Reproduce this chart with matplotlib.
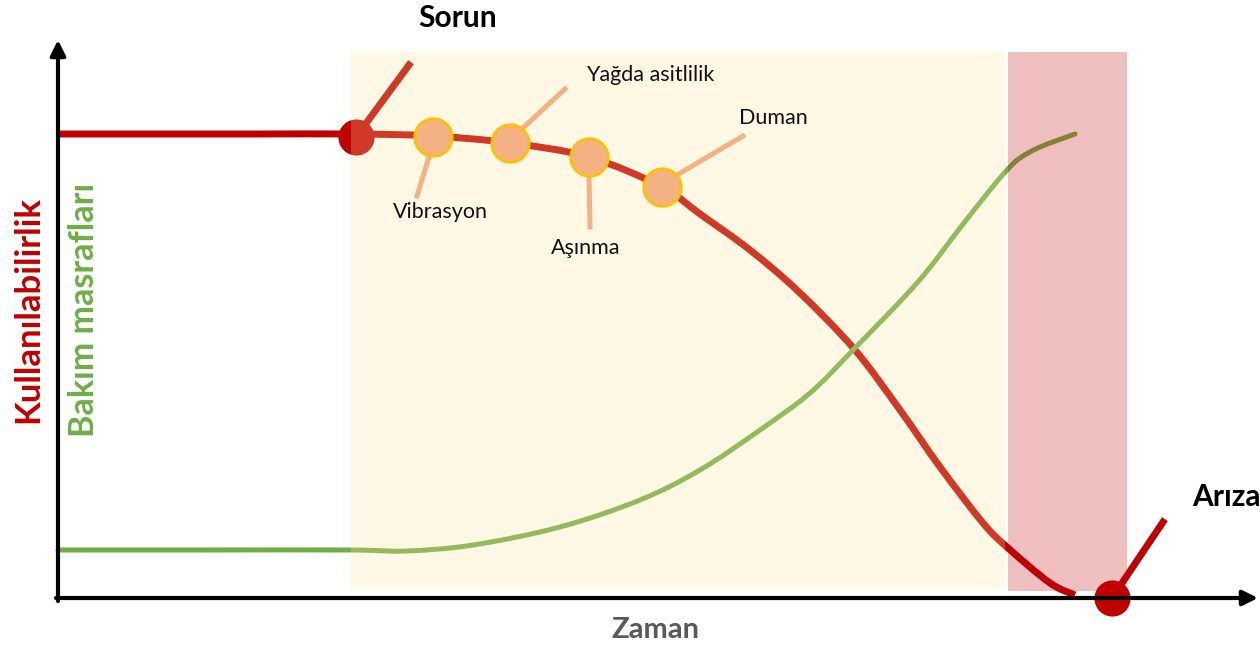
import matplotlib
matplotlib.use("Agg")
import matplotlib.pyplot as plt
from matplotlib.patches import Rectangle, PathPatch
from matplotlib.path import Path

plt.rcParams["font.family"] = ["Lato", "DejaVu Sans"]

# ── Daten (Zeit t, Wert v) ──────────────────────────────────────
red_t = [0.0, 10.0, 20.0, 29.8, 37.5, 45.2, 53.1, 60.4, 64.2, 69.2, 74.2,
         79.7, 84.2, 88.2, 92.5, 95.0, 99.2, 101.7]
red_v = [92.8, 92.8, 92.8, 92.8, 92.4, 91.0, 88.2, 82.2, 76.8, 69.6, 61.0,
         49.6, 37.6, 26.2, 15.0, 10.0, 3.0, 0.6]

green_t = [0.0, 14.2, 29.3, 34.9, 41.5, 50.2, 58.2, 64.2, 70.2, 75.2, 79.5,
           85.9, 90.2, 93.2, 94.9, 96.2, 98.2, 101.7]
green_v = [9.6, 9.6, 9.6, 9.4, 10.6, 14.2, 19.6, 25.6, 33.6, 41.0, 49.6,
           63.0, 74.0, 81.6, 85.6, 88.0, 90.2, 92.8]

symptom_names = ["Vibrasyon", "Yağda asitlilik", "Aşınma", "Duman"]
symptom_t = [37.5, 45.2, 53.1, 60.4]
symptom_v = [92.2, 91.0, 88.2, 82.2]

problem_t, problem_v = 29.8, 92.2
failure_t, failure_v = 105.4, 0.0

RED = "#C00000"
GREEN = "#70AD47"
SALMON = "#F4B183"
GOLD = "#FFC000"


def smooth_path(xs, ys):
    """Glatte Bezier-Kurve durch alle Punkte (Catmull-Rom -> CURVE4)."""
    pts = list(zip(xs, ys))
    verts = [pts[0]]
    codes = [Path.MOVETO]
    n = len(pts)
    for i in range(n - 1):
        p0 = pts[i - 1] if i > 0 else pts[i]
        p1, p2 = pts[i], pts[i + 1]
        p3 = pts[i + 2] if i + 2 < n else pts[i + 1]
        c1 = (p1[0] + (p2[0] - p0[0]) / 6, p1[1] + (p2[1] - p0[1]) / 6)
        c2 = (p2[0] - (p3[0] - p1[0]) / 6, p2[1] - (p3[1] - p1[1]) / 6)
        verts += [c1, c2, p2]
        codes += [Path.CURVE4] * 3
    return Path(verts, codes)


fig = plt.figure(figsize=(12.6, 6.46), dpi=100, facecolor="white")
ax = fig.add_axes([0, 0, 1, 1])
ax.set_xlim(-5.8, 120.2)
ax.set_ylim(-9.6, 119.6)
ax.axis("off")

# ── Kurven ─────────────────────────────────────────────────────
ax.add_patch(PathPatch(smooth_path(red_t, red_v), facecolor="none",
                       edgecolor=RED, lw=5, capstyle="butt", zorder=2))
ax.add_patch(PathPatch(smooth_path(green_t, green_v), facecolor="none",
                       edgecolor=GREEN, lw=3.6, capstyle="round", zorder=2))

# Sorun-Punkt und Ausfall-Punkt mit Stiel
ax.plot([problem_t, problem_t + 5.3], [problem_v, problem_v + 14.4],
        color=RED, lw=5, zorder=2)
ax.plot(problem_t, problem_v, "o", ms=26, color=RED, mec="none", zorder=2)
ax.plot([failure_t, failure_t + 5.1], [failure_v, failure_v + 15.2],
        color=RED, lw=5, zorder=2)
ax.plot(failure_t, failure_v, "o", ms=26, color=RED, mec="none", zorder=6)

# ── Phasen-Flächen ─────────────────────────────────────────────
ax.add_patch(Rectangle((29.3, 2.0), 65.4, 107.2, facecolor="#FFE699",
                       alpha=0.25, edgecolor="none", zorder=3))
ax.add_patch(Rectangle((95.0, 1.4), 11.9, 107.8, facecolor=RED,
                       alpha=0.25, edgecolor="none", zorder=3))

# ── Symptome ───────────────────────────────────────────────────
leader_from = [(37.1, 88.2), (46.5, 94.0), (53.1, 85.0), (61.9, 84.6)]
leader_to = [(35.9, 80.4), (50.7, 101.8), (53.2, 74.2), (68.5, 92.4)]
label_pos = [(38.2, 77.2), (59.2, 104.6), (52.8, 70.0), (71.5, 96.0)]
for name, a, b, p in zip(symptom_names, leader_from, leader_to, label_pos):
    ax.plot([a[0], b[0]], [a[1], b[1]], color=SALMON, lw=3.6, zorder=4)
    ax.text(p[0], p[1], name, ha="center", va="center", fontsize=15.5,
            color="#111111", zorder=7)
ax.plot(symptom_t, symptom_v, "o", ms=27, color=SALMON, mec=GOLD, mew=2,
        ls="none", zorder=5)

# ── Achsen mit Pfeilen ─────────────────────────────────────────
ax.annotate("", xy=(0, 111.6), xytext=(0, -0.6),
            arrowprops=dict(arrowstyle="-|>,head_length=0.9,head_width=0.45",
                            color="black", lw=3, shrinkA=0, shrinkB=0),
            zorder=8)
ax.annotate("", xy=(120.0, 0), xytext=(-0.2, 0),
            arrowprops=dict(arrowstyle="-|>,head_length=0.9,head_width=0.45",
                            color="black", lw=3, shrinkA=0, shrinkB=0),
            zorder=8)

# ── Beschriftungen ─────────────────────────────────────────────
ax.text(40.0, 116.0, "Sorun", ha="center", va="center", fontsize=21.5,
        fontweight="bold", color="black")
ax.text(113.4, 20.2, "Arıza", ha="left", va="center", fontsize=21.5,
        fontweight="bold", color="black")
ax.text(59.7, -6.4, "Zaman", ha="center", va="center", fontsize=21,
        fontweight="bold", color="#595959")
ax.text(-3.0, 57.6, "Kullanılabilirlik", ha="center", va="center",
        rotation=90, fontsize=25, fontweight="bold", color=RED)
ax.text(2.6, 57.6, "Bakım masrafları", ha="center", va="center",
        rotation=90, fontsize=24.5, fontweight="bold", color=GREEN)

fig.savefig("out.png", dpi=100, facecolor="white")
plt.close(fig)
